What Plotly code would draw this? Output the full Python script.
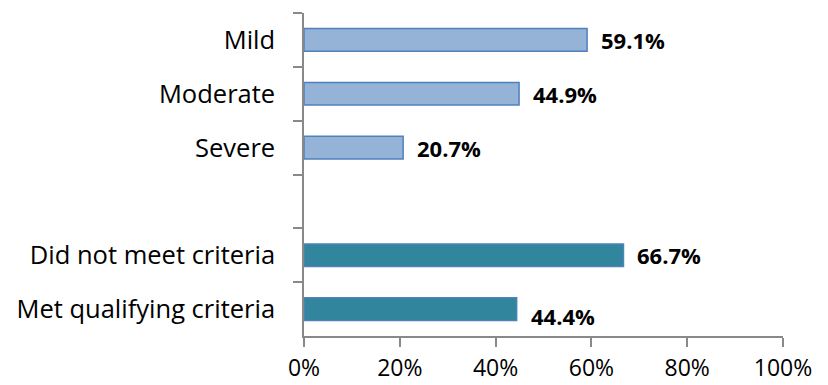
import plotly.graph_objects as go

categories = ["Mild", "Moderate", "Severe", " ", "Did not meet criteria", "Met qualifying criteria"]
values = [59.1, 44.9, 20.7, None, 66.7, 44.4]
fills = ["#95B3D7", "#95B3D7", "#95B3D7", "#95B3D7", "#31859C", "#31859C"]
x_ticks = [0, 20, 40, 60, 80, 100]
x_tick_labels = ["0%", "20%", "40%", "60%", "80%", "100%"]

FONT = "Open Sans, Lato, sans-serif"

fig = go.Figure()
fig.add_trace(go.Bar(
    y=categories, x=values, orientation="h",
    marker=dict(color=fills, line=dict(color="#4F81BD", width=1.5)),
    width=0.42, hoverinfo="skip",
))

for c, v in zip(categories, values):
    if v is None:
        continue
    fig.add_annotation(
        x=v, y=c, text=f"<b>{v:.1f}%</b>", showarrow=False,
        xanchor="left", xshift=12, yshift=(-7 if c.startswith("Met") else 0),
        font=dict(family=FONT, size=22, color="#000000"),
    )

# page body adds an 8px margin, so the figure is sized to fit inside the window
fig.update_layout(
    width=820, height=377,
    margin=dict(l=296, r=45, t=5, b=49),
    paper_bgcolor="white", plot_bgcolor="white",
    showlegend=False,
    font=dict(family=FONT, size=25, color="#000000"),
)
fig.update_xaxes(
    range=[0, 100], tickvals=x_ticks, ticktext=x_tick_labels,
    showgrid=False, zeroline=False, showline=True, linecolor="#898989", linewidth=1.5,
    ticks="outside", ticklen=9, tickcolor="#898989", tickwidth=1.5,
    tickfont=dict(size=23), automargin=False, ticklabelstandoff=2,
)
fig.update_yaxes(
    type="category", categoryorder="array", categoryarray=categories,
    autorange="reversed", tickson="boundaries",
    showgrid=False, showline=True, linecolor="#898989", linewidth=1.5,
    ticks="outside", ticklen=9, tickcolor="#898989", tickwidth=1.5,
    ticklabelstandoff=22, tickfont=dict(size=25.5), automargin=False,
)

fig.write_html("out.html")
